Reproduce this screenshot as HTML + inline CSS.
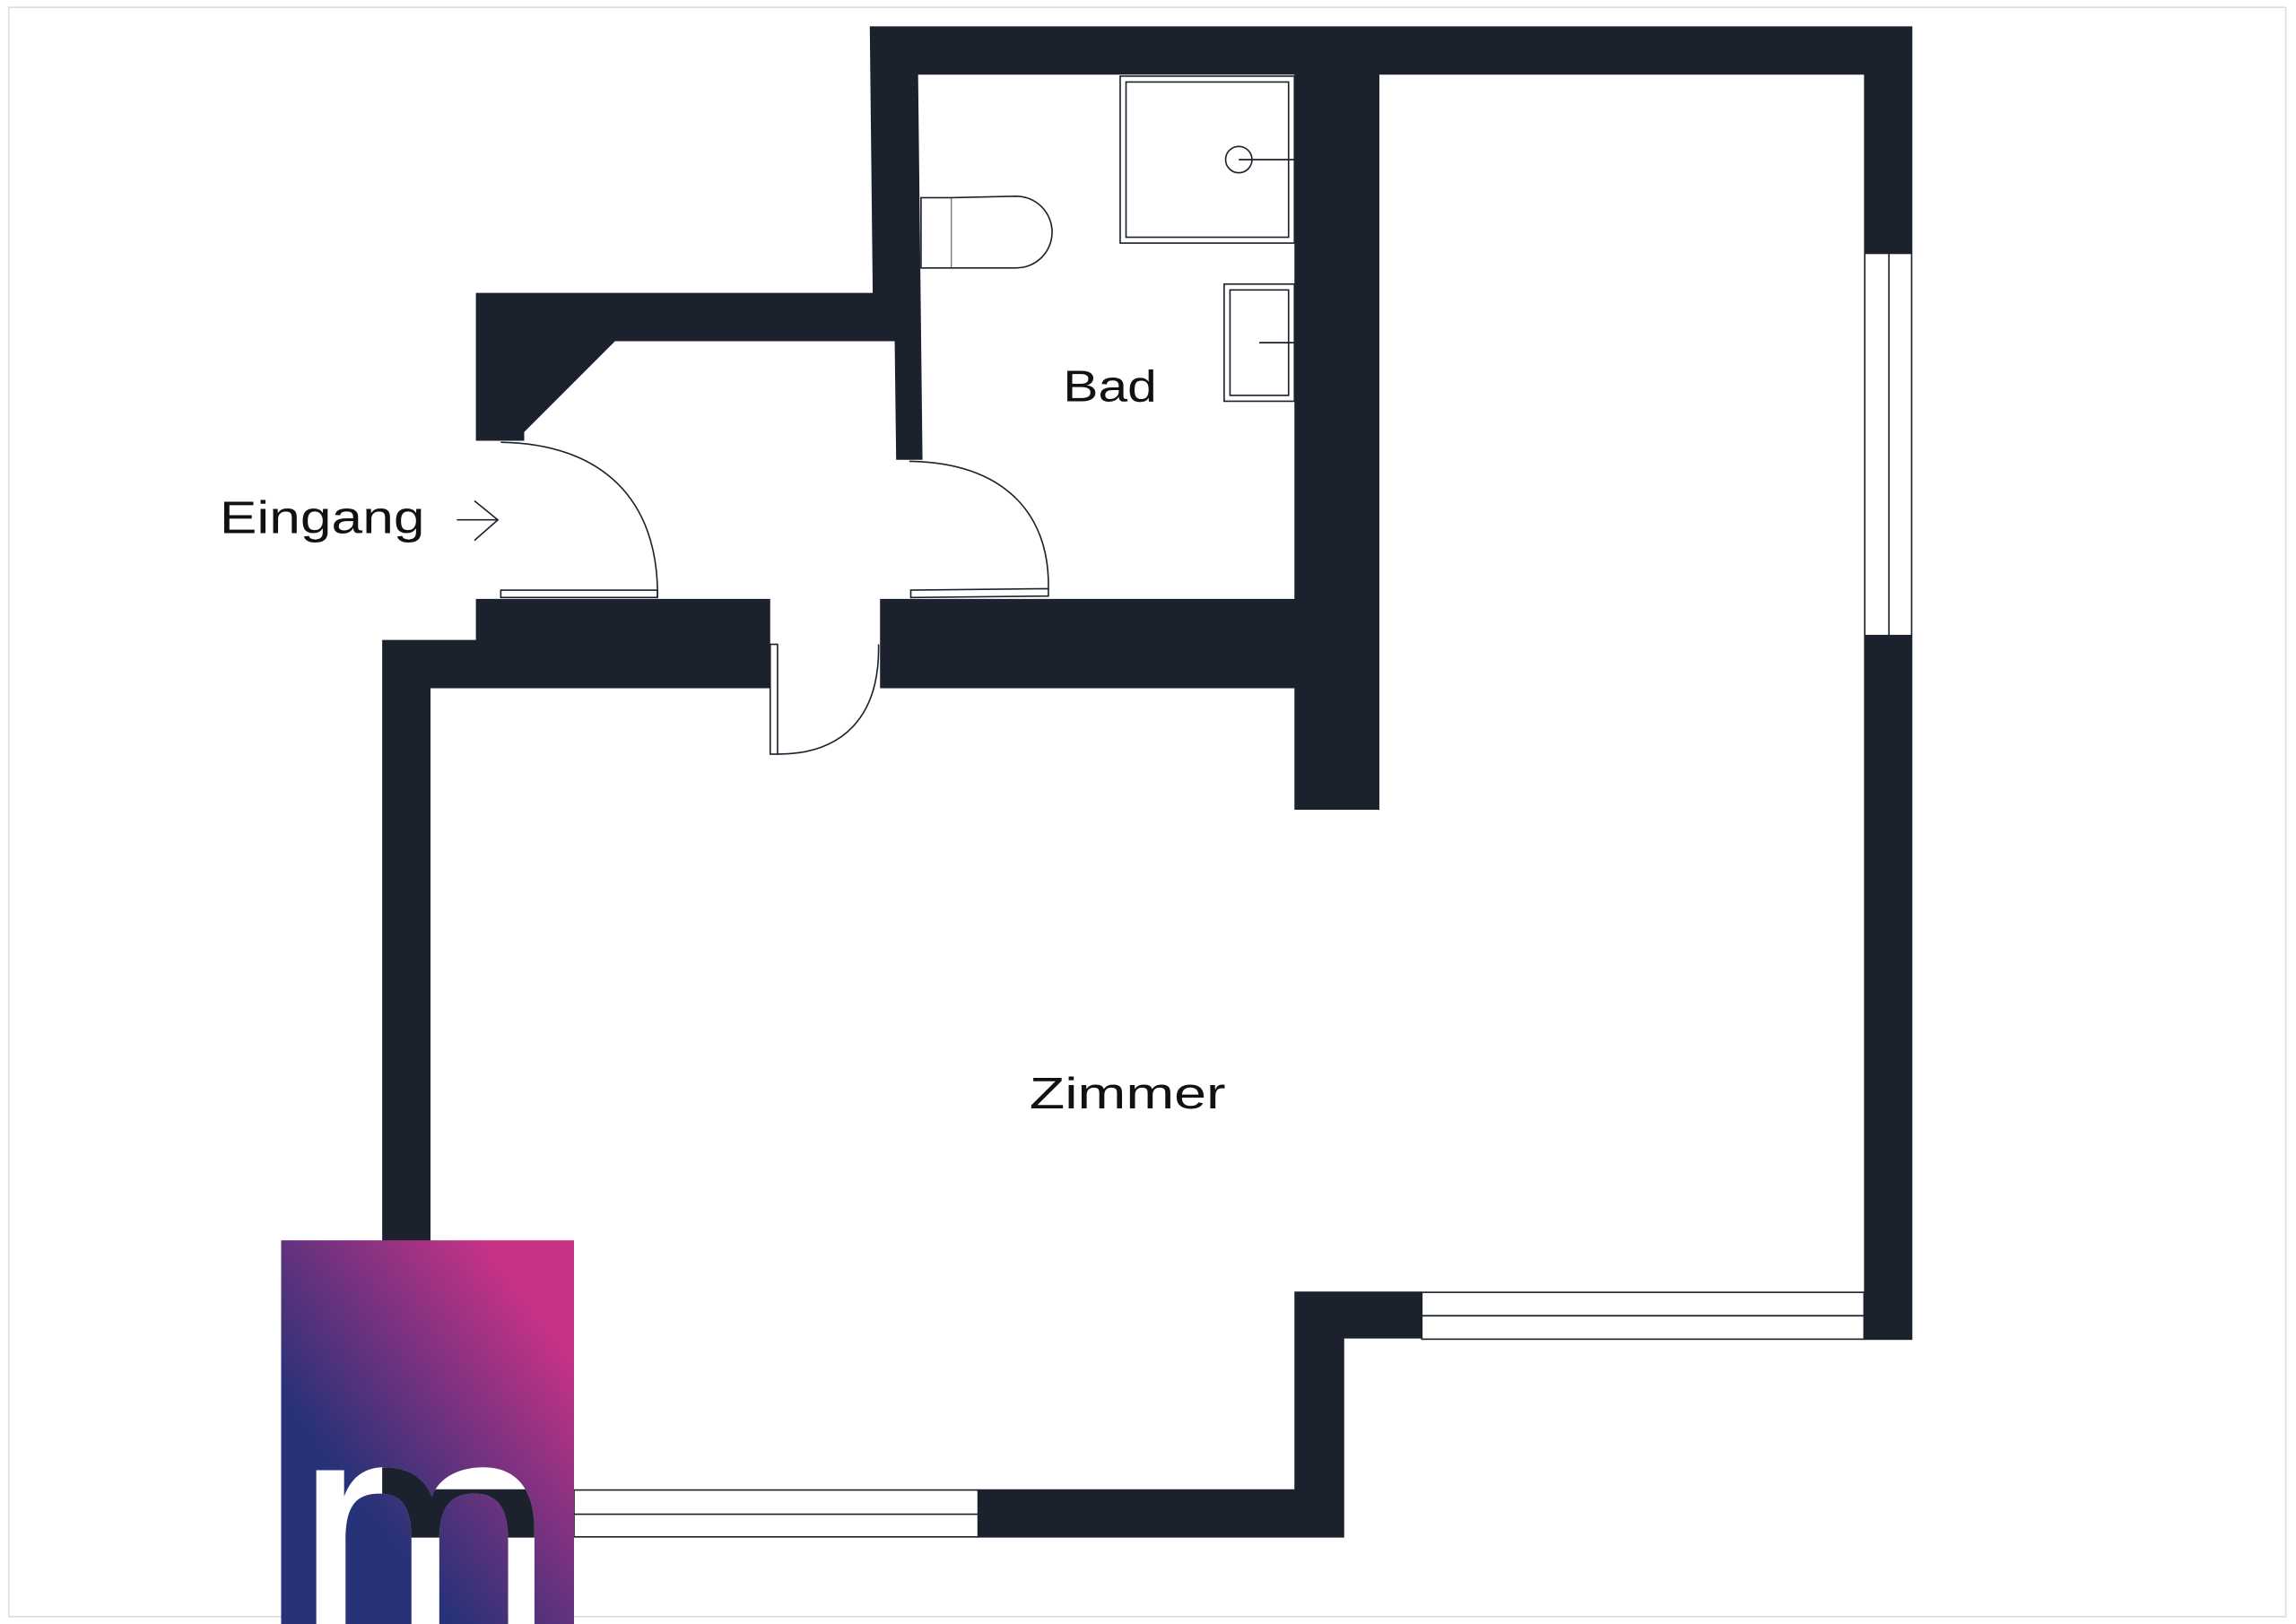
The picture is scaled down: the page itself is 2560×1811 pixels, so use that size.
<!DOCTYPE html>
<html><head><meta charset="utf-8"><style>html,body{margin:0;padding:0;background:#fff}svg{display:block}</style></head>
<body>
<svg width="2560" height="1811" viewBox="0 0 1568 1109" preserveAspectRatio="none" xmlns="http://www.w3.org/2000/svg">
<defs>
<linearGradient id="g" x1="0" y1="1" x2="1" y2="0">
<stop offset="0.3" stop-color="#283278"/>
<stop offset="0.85" stop-color="#c83287"/>
</linearGradient>
<clipPath id="mc"><path id="mp" d="M216,1109 V1004 H235 V1022 C240,1008 250,1002 262,1002 C280,1002 290,1010 295,1022 C300,1008 315,1002 330,1002 C355,1002 365,1020 365,1045 V1109 H347 V1052 C347,1030 340,1020 324,1020 C307,1020 300,1030 300,1052 V1109 H281 V1052 C281,1030 275,1020 259,1020 C242,1020 236,1030 236,1052 V1109 Z"/></clipPath>
</defs>
<rect x="0" y="0" width="1568" height="1109" fill="#fff"/>
<rect x="6" y="5" width="1555" height="1099" fill="none" stroke="#ddd" stroke-width="1"/>
<g fill="#1b222d">
<polygon points="594,18 1306,18 1306,173 1273,173 1273,51 942,51 942,553 884,553 884,470 601,470 601,409 884,409 884,51 627,51 630,314 612,314 611,233 420,233 358,295 358,301 325,301 325,200 596,200"/>
<rect x="1273" y="434" width="33" height="481"/>
<polygon points="884,882 971,882 971,914 918,914 918,1050 668,1050 668,1017 884,1017"/>
<polygon points="261,437 325,437 325,409 526,409 526,470 294,470 294,1017 392,1017 392,1050 261,1050"/>
</g>
<g fill="#fff" stroke="#1b222d" stroke-width="1">
<rect x="1273.5" y="173" width="32" height="261"/><line x1="1290" y1="173" x2="1290" y2="434"/>
<rect x="971" y="882.5" width="302" height="32"/><line x1="971" y1="898.5" x2="1273" y2="898.5"/>
<rect x="392" y="1017.5" width="276" height="32"/><line x1="392" y1="1034" x2="668" y2="1034"/>
<rect x="342" y="403" width="107" height="5"/>
<path d="M342,302 C410,303 450,340 449,408" fill="none"/>
<polygon points="622,403 716,402 716,407 622,408"/>
<path d="M621,315 C685,316 717,350 716,402" fill="none"/>
<rect x="526" y="440" width="5" height="75"/>
<path d="M531,515 C575,515 601,490 600,440" fill="none"/>
<rect x="629" y="135" width="21" height="48"/>
<path d="M650,135 L694,134 A24.5,24.5 0 0 1 694,183 L650,183"/>
<rect x="765" y="52" width="119" height="114"/><rect x="769" y="56" width="111" height="106"/>
<circle cx="846" cy="109" r="9"/><line x1="846" y1="109" x2="884" y2="109"/>
<rect x="836" y="194" width="48" height="80"/><rect x="840" y="198" width="40" height="72"/>
<line x1="860" y1="234" x2="884" y2="234"/>
<path d="M312,355 H340 M324,342 L340,355 L324,369" fill="none"/>
</g>
<g font-family="'Liberation Sans',sans-serif" fill="#111" font-size="30">
<text x="726" y="274" textLength="64" lengthAdjust="spacingAndGlyphs">Bad</text>
<text x="703" y="757" textLength="134" lengthAdjust="spacingAndGlyphs">Zimmer</text>
<text x="150" y="364" font-size="31" textLength="140" lengthAdjust="spacingAndGlyphs">Eingang</text>
</g>
<rect x="192" y="847" width="200" height="262" fill="url(#g)"/>
<use href="#mp" fill="#fff"/>
<g clip-path="url(#mc)" fill="#1b222d">
<rect x="261" y="990" width="33" height="60"/>
<rect x="294" y="1017" width="98" height="33"/>
</g>
</svg>
</body></html>
